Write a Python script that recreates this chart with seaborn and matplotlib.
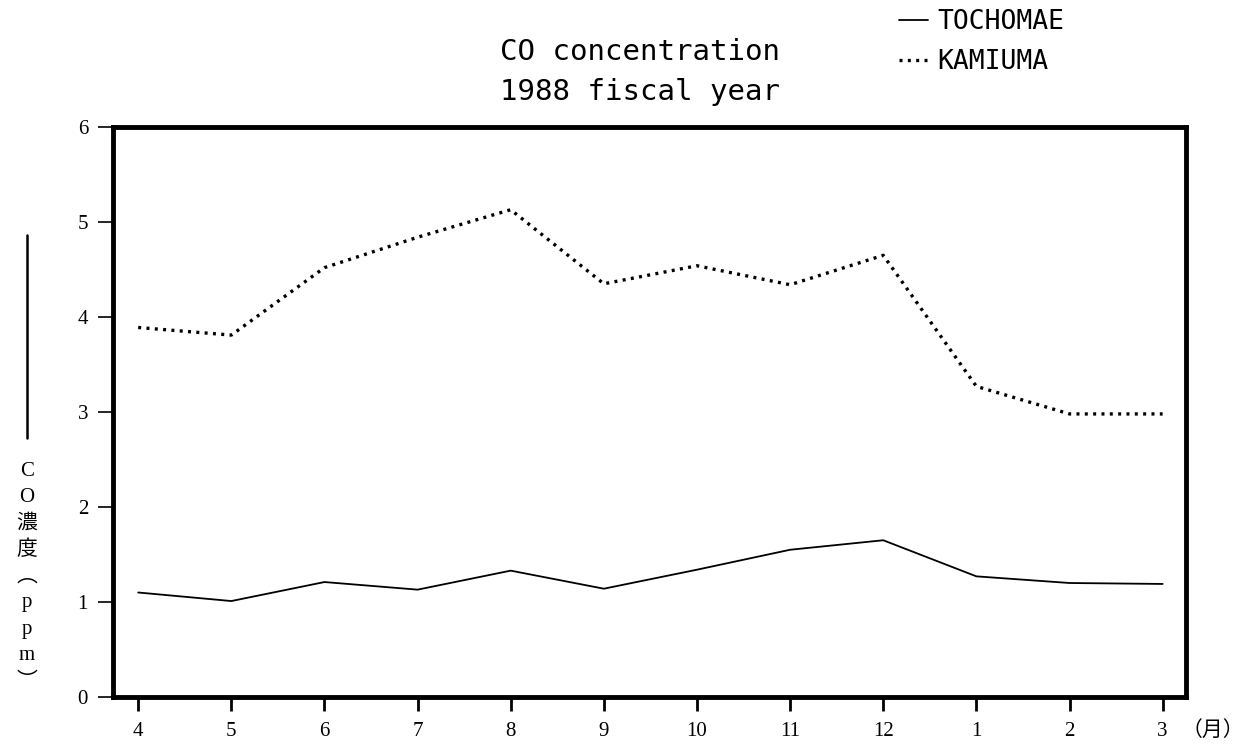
import matplotlib
matplotlib.use("Agg")
import matplotlib.pyplot as plt
from matplotlib.lines import Line2D
import seaborn as sns
import pandas as pd

# monthly CO concentration (ppm), fiscal year 1988 (April -> March)
months = ["4", "5", "6", "7", "8", "9", "10", "11", "12", "1", "2", "3"]
tochomae = [1.10, 1.01, 1.21, 1.13, 1.33, 1.14, 1.34, 1.55, 1.65, 1.27, 1.20, 1.19]
kamiuma = [3.89, 3.81, 4.52, 4.84, 5.13, 4.35, 4.54, 4.34, 4.65, 3.27, 2.98, 2.98]
y_ticks = [0, 1, 2, 3, 4, 5, 6]
ylabel_chars = ["C", "O", "濃", "度", "︵", "p", "p", "m", "︶"]

sns.set_style("white")
plt.rcParams["font.family"] = ["Liberation Serif", "Noto Sans CJK JP", "DejaVu Sans"]
plt.rcParams["text.color"] = "black"
plt.rcParams["xtick.color"] = "black"
plt.rcParams["ytick.color"] = "black"

df = pd.DataFrame({"pos": range(len(months)), "month": months,
                   "TOCHOMAE": tochomae, "KAMIUMA": kamiuma})

fig = plt.figure(figsize=(12.49, 7.44), dpi=100)
ax = fig.add_axes([0.0905, 0.0632, 0.859, 0.766])

sns.lineplot(data=df, x="pos", y="TOCHOMAE", ax=ax, color="black",
             linewidth=1.3, label="TOCHOMAE")
sns.lineplot(data=df, x="pos", y="KAMIUMA", ax=ax, color="black",
             linewidth=2.4, linestyle=(0, (0.9, 1.6)), label="KAMIUMA")

ax.set_xlim(-0.27, 11.25)
ax.set_ylim(0, 6)
ax.set_xticks(df["pos"])
ax.set_xticklabels(months, fontsize=15, color="black")
ax.set_yticks(y_ticks)
ax.set_yticklabels([str(v) for v in y_ticks], fontsize=15, color="black")
ax.set_xlabel("")
ax.set_ylabel("")
ax.tick_params(axis="y", direction="out", length=11, width=1.2, pad=7, left=True)
ax.tick_params(axis="x", direction="out", length=10, width=2, pad=8, bottom=True)
for side in ["left", "right", "top", "bottom"]:
    ax.spines[side].set_visible(True)
    ax.spines[side].set_color("black")
    ax.spines[side].set_linewidth(3.5)

# legend in the top right, dot-matrix style
leg = ax.legend(loc="center left", bbox_to_anchor=(899 / 1249, 1 - 42 / 744),
                bbox_transform=fig.transFigure, frameon=False,
                borderpad=0, borderaxespad=0,
                handlelength=1.1, handletextpad=0.35, labelspacing=0.55,
                prop={"family": "DejaVu Sans Mono", "size": 19})
for t in leg.get_texts():
    t.set_color("black")

fig.text(640 / 1249, 1 - 52 / 744, "CO concentration", ha="center", va="center",
         family="DejaVu Sans Mono", fontsize=21, color="black")
fig.text(640 / 1249, 1 - 92 / 744, "1988 fiscal year", ha="center", va="center",
         family="DejaVu Sans Mono", fontsize=21, color="black")

# vertical y label with a line above it
for i, ch in enumerate(ylabel_chars):
    fig.text(27 / 1249, 1 - (471 + i * 26.4) / 744, ch, ha="center", va="center",
             fontsize=15, color="black")
fig.add_artist(Line2D([27 / 1249, 27 / 1249], [1 - 235 / 744, 1 - 438 / 744],
                      color="black", linewidth=1.8, transform=fig.transFigure))

fig.text(1213 / 1249, 1 - 731 / 744, "（月）", ha="center", va="center",
         fontsize=15, color="black")

fig.savefig("out.png", dpi=100)
